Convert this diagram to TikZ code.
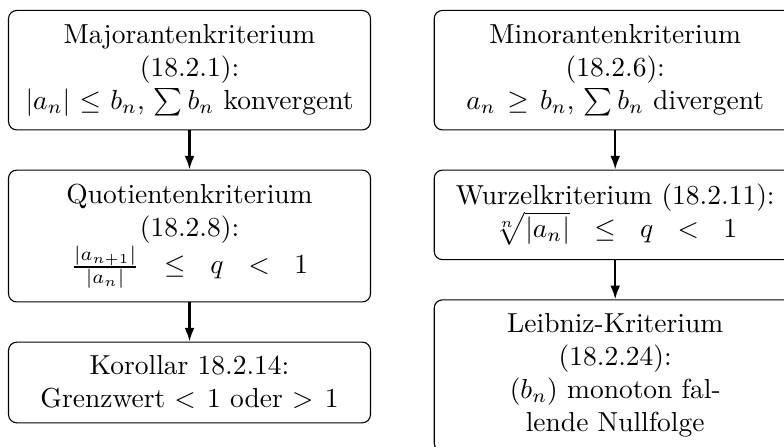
\documentclass[tikz,border=0pt]{standalone}
\usepackage{amsmath,amssymb}
\usepackage{tikz}
\usetikzlibrary{arrows.meta,positioning,calc}

\begin{document}
\begin{tikzpicture}[
    node distance=0.5cm and 0.8cm,
    crit/.style={rectangle, draw, rounded corners=3pt, text width=4.5cm, inner xsep=1.8pt, inner ysep=5pt, align=center},
    arrow/.style={-{Latex[length=5pt,width=3.6pt]}, thick}
]
    % Left column
    \node[crit] (major) {Majorantenkriterium\\(18.2.1):\\$|a_n| \leq b_n$, $\sum b_n$ konvergent};
    \node[crit, below=of major] (quot) {Quotientenkriterium\\(18.2.8):\\$\frac{|a_{n+1}|}{|a_n|}\ \leq\ q\ <\ 1$};
    \node[crit, below=of quot] (korol) {Korollar 18.2.14:\\Grenzwert $<1$ oder $>1$};

    % Right column
    \node[crit, right=of major] (minor) {Minorantenkriterium\\(18.2.6):\\$a_n \geq b_n$, $\sum b_n$ divergent};
    \node[crit, below=of minor] (wurzel) {Wurzelkriterium (18.2.11):\\$\sqrt[n]{|a_n|}\ \leq\ q\ <\ 1$};
    \node[crit, below=of wurzel] (leibniz) {Leibniz-Kriterium\\(18.2.24):\\$(b_n)$ monoton fal-\\lende Nullfolge};

    % Arrows
    \draw[arrow] (major) -- (quot);
    \draw[arrow] (quot) -- (korol);
    \draw[arrow] (minor) -- (wurzel);
    \draw[arrow] (wurzel) -- (leibniz);

    % Page frame
    \pgfresetboundingbox
    \useasboundingbox ($(major.north west)+(-2.9pt,3.6pt)$) rectangle ++(285.1pt,-162.5pt);
\end{tikzpicture}
\end{document}
